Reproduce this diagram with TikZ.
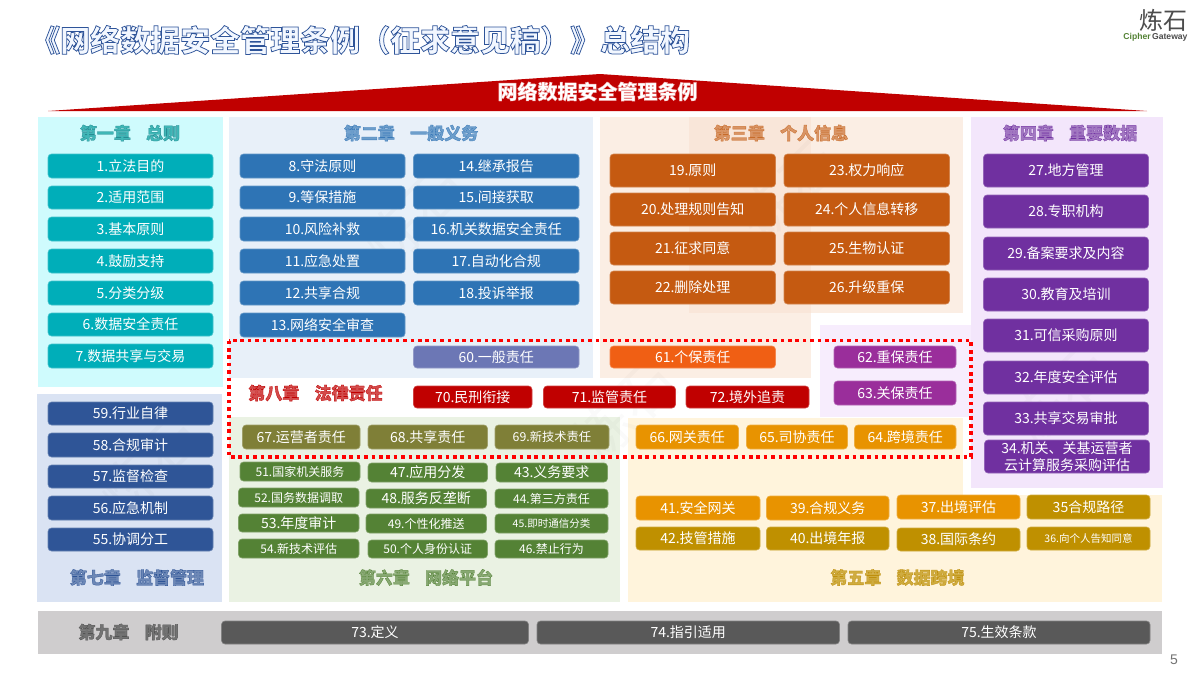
\documentclass[tikz,border=0pt]{standalone}
\usepackage{fontspec}
\setmainfont{Noto Sans CJK SC}
\newfontfamily\latinf{Liberation Sans}
\definecolor{cTeal}{HTML}{00AEB9}
\definecolor{cBlue}{HTML}{2E74B5}
\definecolor{cOrg}{HTML}{C55A11}
\definecolor{cPur}{HTML}{7030A0}
\definecolor{cNavy}{HTML}{2F5597}
\definecolor{cGrn}{HTML}{548235}
\definecolor{cOli}{HTML}{7F7F37}
\definecolor{cAmb}{HTML}{E89300}
\definecolor{cGld}{HTML}{BF9000}
\definecolor{cRed}{HTML}{C00000}
\definecolor{cGry}{HTML}{595959}
\definecolor{cSl}{HTML}{6C77B5}
\definecolor{cOr2}{HTML}{F05F14}
\definecolor{cMag}{HTML}{9A2E9B}
\definecolor{pTeal}{HTML}{CFFBFD}
\definecolor{pBlue}{HTML}{E8F0F9}
\definecolor{pOrg}{HTML}{FBEEE4}
\definecolor{pOrgD}{HTML}{F9E6D9}
\definecolor{pPur}{HTML}{F3E6FB}
\definecolor{pPur2}{HTML}{F7EDFD}
\definecolor{pGold}{HTML}{FFF4DC}
\definecolor{pGrn}{HTML}{EAF2E3}
\definecolor{pNavy}{HTML}{DAE3F3}
\definecolor{pGry}{HTML}{CFCDCE}
\newcommand{\outl}[3]{{\special{pdf:code 2 Tr #2 w #1 RG}#3\special{pdf:code 0 Tr}}}
\tikzset{
  boxst/.style={rounded corners=3.5pt,inner sep=0pt,text=white,align=center,line width=0.6pt},
  headst/.style={inner sep=0pt,font=\bfseries\fontsize{17}{17}\selectfont},
  wmark/.style={rotate=45,text=black,opacity=0.02,inner sep=0pt,font=\fontsize{58}{58}\selectfont},
}
\newcommand{\bx}[8]{\node[boxst,fill=#6,draw=#6!75!white,minimum width={(#4-#2)*1pt},minimum height={(#5-#3)*1pt},font=\fontsize{#7}{#7}\selectfont] (#1) at ({(#2+#4)/2},{(#3+#5)/2}) {#8};}
\newcommand{\hd}[6]{\node[headst,text=#4] (#1) at (#2,#3) {\outl{#5}{0.3}{#6}};}
\begin{document}
\begin{tikzpicture}[x=1pt,y=-1pt]
\useasboundingbox (0,0) rectangle (1200,675);
\fill[white] (0,0) rectangle (1200,675);
% title
\node[inner sep=0pt,anchor=west,text={rgb,1:red,0.95;green,0.97;blue,1},font=\bfseries\fontsize{30}{30}\selectfont] (title) at (30,40) {\outl{0.18 0.33 0.60}{0.75}{《网络数据安全管理条例（征求意见稿）》总结构}};
% logo
\node[inner sep=0pt,text=black!70,font=\fontsize{24}{24}\selectfont] (logoa) at (1163,20) {炼石};
\node[inner sep=0pt,font=\latinf\bfseries\fontsize{8.6}{9}\selectfont] (logob) at (1155.5,37) {\textcolor{cGrn}{Cipher}\,\textcolor{black!70}{Gateway}};
% roof
\fill[cRed] (48,111) -- (600,74) -- (1147,111) -- cycle;
\node[inner sep=0pt,text=white,font=\bfseries\fontsize{20}{20}\selectfont] (roof) at (597.5,91.5) {\outl{0.93 0.62 0.62}{0.35}{网络数据安全管理条例}};
% panels
\fill[pTeal] (38,117) rectangle (223,387);
\fill[pBlue] (229,117) rectangle (593,378);
\fill[pOrg] (600,117) rectangle (811,378);
\fill[pOrg] (811,117) rectangle (963,313);
\fill[pOrgD] (689,117) rectangle (811,313);
\fill[pPur2] (820,325) rectangle (971,417);
\fill[pPur] (971,117) rectangle (1163,488);
\fill[pGold] (628,418) rectangle (963,495);
\fill[pGold] (628,495) rectangle (1162,602);
\fill[pGrn] (229,417) rectangle (620,602);
\fill[pNavy] (37,394) rectangle (222,602);
\fill[pGry] (38,611) rectangle (1162,654);
% watermarks
\node[wmark] (w1) at (415,215) {炼石};
\node[wmark] (w2) at (790,190) {炼石};
\node[wmark] (w3) at (150,465) {炼石};
\node[wmark] (w4) at (625,410) {炼石};
\node[wmark] (w5) at (1060,395) {炼石};
% headings
\hd{h1}{130}{133}{teal!75!cyan!75!white}{0.15 0.55 0.58}{第一章\hspace{0.9em}总则}
\hd{h2}{411}{133}{cBlue!70!white}{0.22 0.47 0.72}{第二章\hspace{0.9em}一般义务}
\hd{h3}{781}{133}{cOrg!65!white}{0.78 0.42 0.16}{第三章\hspace{0.9em}个人信息}
\hd{h4}{1070}{133}{cPur!65!white}{0.44 0.19 0.63}{第四章\hspace{0.9em}重要数据}
\hd{h5}{897.5}{577.5}{cGld!75!white}{0.75 0.56 0.05}{第五章\hspace{0.9em}数据跨境}
\hd{h6}{426}{577.5}{cGrn!70!white}{0.33 0.51 0.21}{第六章\hspace{0.9em}网络平台}
\hd{h7}{137}{577.5}{cNavy!70!white}{0.18 0.33 0.59}{第七章\hspace{0.9em}监督管理}
\hd{h8}{315.5}{393}{cRed!70!white}{0.75 0 0}{第八章\hspace{0.9em}法律责任}
\hd{h9}{128.6}{632}{black!55}{0.33 0.33 0.33}{第九章\hspace{0.9em}附则}
% chapter 1
\bx{n1}{48}{154}{213}{178}{cTeal}{14}{1.立法目的}
\bx{n2}{48}{186}{213}{209}{cTeal}{14}{2.适用范围}
\bx{n3}{48}{217}{213}{241}{cTeal}{14}{3.基本原则}
\bx{n4}{48}{249}{213}{273}{cTeal}{14}{4.鼓励支持}
\bx{n5}{48}{281}{213}{305}{cTeal}{14}{5.分类分级}
\bx{n6}{48}{313}{213}{336}{cTeal}{14}{6.数据安全责任}
\bx{n7}{48}{344}{213}{368}{cTeal}{14}{7.数据共享与交易}
% chapter 2
\bx{n8}{240}{154}{405}{178}{cBlue}{14}{8.守法原则}
\bx{n9}{240}{186}{405}{209}{cBlue}{14}{9.等保措施}
\bx{n10}{240}{217}{405}{241}{cBlue}{14}{10.风险补救}
\bx{n11}{240}{249}{405}{273}{cBlue}{14}{11.应急处置}
\bx{n12}{240}{281}{405}{305}{cBlue}{14}{12.共享合规}
\bx{n13}{240}{313}{405}{337}{cBlue}{14}{13.网络安全审查}
\bx{n14}{413.5}{154}{579}{178}{cBlue}{14}{14.继承报告}
\bx{n15}{413.5}{186}{579}{209}{cBlue}{14}{15.间接获取}
\bx{n16}{413.5}{217}{579}{241}{cBlue}{14}{16.机关数据安全责任}
\bx{n17}{413.5}{249}{579}{273}{cBlue}{14}{17.自动化合规}
\bx{n18}{413.5}{281}{579}{305}{cBlue}{14}{18.投诉举报}
% chapter 3
\bx{n19}{610}{154}{775.5}{187}{cOrg}{14}{19.原则}
\bx{n20}{610}{193}{775.5}{226}{cOrg}{14}{20.处理规则告知}
\bx{n21}{610}{232}{775.5}{265}{cOrg}{14}{21.征求同意}
\bx{n22}{610}{271}{775.5}{304}{cOrg}{14}{22.删除处理}
\bx{n23}{784}{154}{949.5}{187}{cOrg}{14}{23.权力响应}
\bx{n24}{784}{193}{949.5}{226}{cOrg}{14}{24.个人信息转移}
\bx{n25}{784}{232}{949.5}{265}{cOrg}{14}{25.生物认证}
\bx{n26}{784}{271}{949.5}{304}{cOrg}{14}{26.升级重保}
% chapter 4
\bx{n27}{983.5}{154}{1148.5}{187}{cPur}{14}{27.地方管理}
\bx{n28}{983.5}{195}{1148.5}{228}{cPur}{14}{28.专职机构}
\bx{n29}{983.5}{237}{1148.5}{270}{cPur}{14}{29.备案要求及内容}
\bx{n30}{983.5}{278}{1148.5}{311}{cPur}{14}{30.教育及培训}
\bx{n31}{983.5}{319}{1148.5}{352}{cPur}{14}{31.可信采购原则}
\bx{n32}{983.5}{361}{1148.5}{394}{cPur}{14}{32.年度安全评估}
\bx{n33}{983.5}{402}{1148.5}{435}{cPur}{14}{33.共享交易审批}
\node[boxst,fill=cPur,draw=cPur!75!white,minimum width=165pt,minimum height=33pt,font=\fontsize{14}{17}\selectfont] (n34) at (1067,456.5) {34.机关、关基运营者\\云计算服务采购评估};
% chapter 5
\bx{n35}{1027}{495}{1150}{519}{cGld}{14}{35合规路径}
\bx{n36}{1027}{527}{1150}{550}{cGld}{10.5}{36.向个人告知同意}
\bx{n37}{897}{495}{1020}{519}{cAmb}{14}{37.出境评估}
\bx{n38}{897}{528}{1020}{551}{cGld}{14}{38.国际条约}
\bx{n39}{766.5}{496}{889}{520}{cAmb}{14}{39.合规义务}
\bx{n40}{766.5}{527}{889}{550}{cGld}{14}{40.出境年报}
\bx{n41}{636}{496}{760}{520}{cAmb}{14}{41.安全网关}
\bx{n42}{636}{527}{760}{550}{cGld}{14}{42.技管措施}
% chapter 6
\bx{n51}{240}{462}{360}{481}{cGrn}{12}{51.国家机关服务}
\bx{n47}{368}{463}{487.5}{482}{cGrn}{14}{47.应用分发}
\bx{n43}{496}{463}{607.5}{482}{cGrn}{14}{43.义务要求}
\bx{n52}{238.5}{488}{359}{507}{cGrn}{12}{52.国务数据调取}
\bx{n48}{366}{489}{486.5}{508}{cGrn}{14}{48.服务反垄断}
\bx{n44}{495}{489}{608}{508}{cGrn}{12}{44.第三方责任}
\bx{n53}{238.5}{514}{359}{532}{cGrn}{14}{53.年度审计}
\bx{n49}{366}{514}{486.5}{533}{cGrn}{12}{49.个性化推送}
\bx{n45}{495}{514}{608}{533}{cGrn}{10.5}{45.即时通信分类}
\bx{n54}{238.5}{539}{359}{558}{cGrn}{12}{54.新技术评估}
\bx{n50}{368}{540}{487.5}{558}{cGrn}{12}{50.个人身份认证}
\bx{n46}{495}{540}{608}{558}{cGrn}{12}{46.禁止行为}
% chapter 7
\bx{n59}{48}{402}{213}{425}{cNavy}{14}{59.行业自律}
\bx{n58}{48}{433}{213}{457}{cNavy}{14}{58.合规审计}
\bx{n57}{48}{465}{213}{488}{cNavy}{14}{57.监督检查}
\bx{n56}{48}{496}{213}{520}{cNavy}{14}{56.应急机制}
\bx{n55}{48}{528}{213}{551}{cNavy}{14}{55.协调分工}
% chapter 8
\bx{n60}{413.5}{346}{579}{368}{cSl}{14}{60.一般责任}
\bx{n61}{610}{346}{775.5}{368}{cOr2}{14}{61.个保责任}
\bx{n62}{834}{346}{956}{368}{cMag}{14}{62.重保责任}
\bx{n63}{834}{381}{956}{405}{cMag}{14}{63.关保责任}
\bx{n70}{413.5}{386}{532}{408}{cRed}{14}{70.民刑衔接}
\bx{n71}{543.5}{386}{675.5}{408}{cRed}{14}{71.监管责任}
\bx{n72}{686}{386}{809}{408}{cRed}{14}{72.境外追责}
\bx{n67}{242.5}{425}{360}{449}{cOli}{14}{67.运营者责任}
\bx{n68}{368}{425}{487.5}{449}{cOli}{14}{68.共享责任}
\bx{n69}{495}{425}{609}{449}{cOli}{12.3}{69.新技术责任}
\bx{n66}{636}{425}{738.5}{449}{cAmb}{14}{66.网关责任}
\bx{n65}{746.5}{425}{847.5}{449}{cAmb}{14}{65.司协责任}
\bx{n64}{854.5}{425}{956}{449}{cAmb}{14}{64.跨境责任}
% chapter 9
\bx{n73}{221.5}{621}{528.5}{644}{cGry}{14}{73.定义}
\bx{n74}{537}{621}{839.5}{644}{cGry}{14}{74.指引适用}
\bx{n75}{848}{621}{1150}{644}{cGry}{14}{75.生效条款}
% dotted frame
\draw[red,line width=3.6pt,dash pattern=on 3.7pt off 3.7pt] (229,340.5) rectangle (971,457);
% page number
\node[inner sep=0pt,text=black!55,font=\latinf\fontsize{14}{14}\selectfont] (pg) at (1174,660) {5};
\end{tikzpicture}
\end{document}
